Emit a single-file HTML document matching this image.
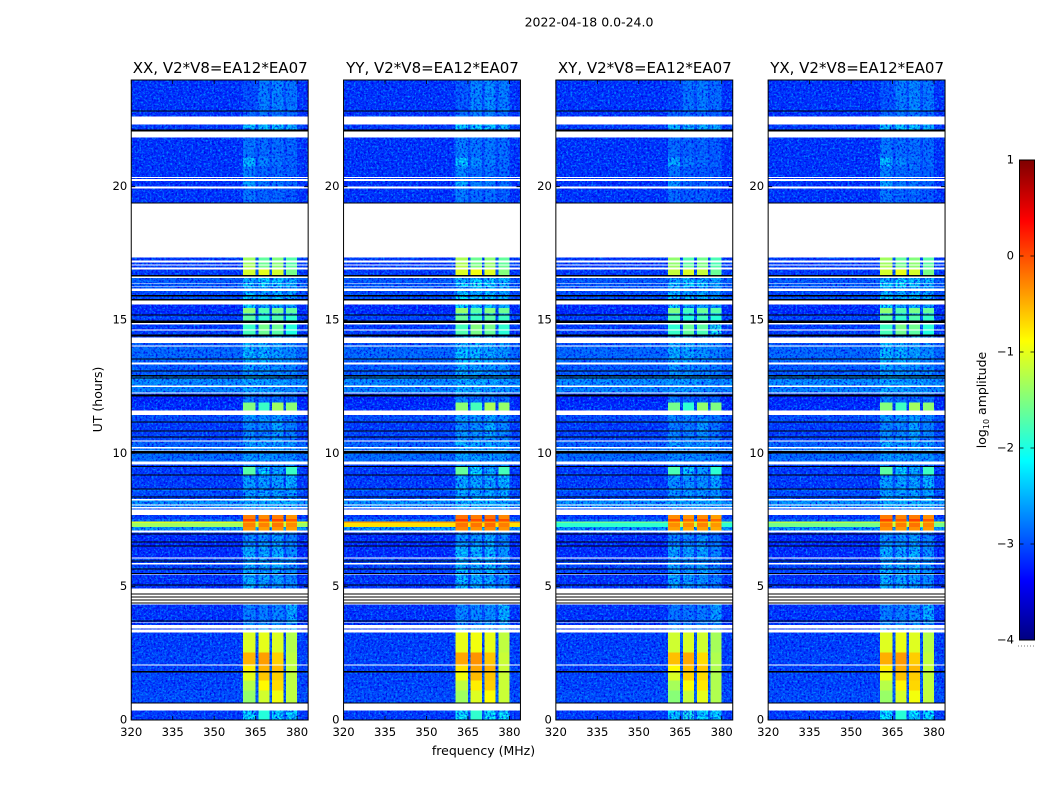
<!DOCTYPE html>
<html lang="en">
<head>
<meta charset="utf-8">
<title>2022-04-18 0.0-24.0</title>
<style>
html,body{margin:0;padding:0;background:#fff;}
body{width:1050px;height:800px;overflow:hidden;}
svg{display:block;}
text{font-family:"DejaVu Sans","Liberation Sans",sans-serif;fill:#000;}
</style>
</head>
<body>
<svg id="chart" xmlns="http://www.w3.org/2000/svg" width="1050" height="800" viewBox="0 0 1050 800">
  <defs>
    <filter id="speckle" filterUnits="userSpaceOnUse" x="0" y="0" width="1050" height="800" color-interpolation-filters="sRGB">
      <feTurbulence type="fractalNoise" baseFrequency="0.48 0.52" numOctaves="2" seed="4" result="n1"/>
      <feColorMatrix in="n1" type="matrix" values="0 0 0 0 0  0 0 0 0 0.55  0 0 0 0 1  3.0 0 0 0 -1.4" result="light"/>
      <feComposite in="light" in2="SourceGraphic" operator="in" result="lightIn"/>
      <feTurbulence type="fractalNoise" baseFrequency="0.5 0.46" numOctaves="2" seed="17" result="n2"/>
      <feColorMatrix in="n2" type="matrix" values="0 0 0 0 0  0 0 0 0 0  0 0 0 0 0.9  3.0 0 0 0 -1.3" result="dark"/>
      <feComposite in="dark" in2="SourceGraphic" operator="in" result="darkIn"/>
      <feMerge><feMergeNode in="SourceGraphic"/><feMergeNode in="darkIn"/><feMergeNode in="lightIn"/></feMerge>
    </filter>
  </defs>
  <text x="589" y="26.5" font-size="12.5" text-anchor="middle">2022-04-18 0.0-24.0</text>
  <g id="panels"></g>
  <text x="483.5" y="755" font-size="12.5" text-anchor="middle">frequency (MHz)</text>
  <text x="0" y="0" font-size="12.5" text-anchor="middle" transform="translate(102,399.5) rotate(-90)">UT (hours)</text>
  <g id="colorbar"></g>
  <text x="0" y="0" font-size="12.5" text-anchor="middle" transform="translate(986,400) rotate(-90)">log<tspan font-size="8" dy="3">10</tspan><tspan dy="-3"> amplitude</tspan></text>
</svg>
<script>
// Panels and axes
const panelTitles = ["XX, V2*V8=EA12*EA07", "YY, V2*V8=EA12*EA07", "XY, V2*V8=EA12*EA07", "YX, V2*V8=EA12*EA07"];
const freqTicks = [320, 335, 350, 365, 380];
const timeTicks = [0, 5, 10, 15, 20];
const colorTicks = [1, 0, -1, -2, -3, -4];
const freqRange = [320, 384];
const timeRange = [0, 24];
const colorRange = [-4, 1];

// Frequency channels: edges of background, sub-bands and the gaps between them
const channelEdges = [320, 360.5, 365, 366, 370, 371, 375, 376, 380, 384];

// Time rows: [UT top, UT bottom, background, band 1, band 2, band 3, band 4] in log10 amplitude.
// UT ranges absent from this list carry no data and stay white.
const timeRows = [
  [24.00, 22.81, -3.15, -3.00, -2.70, -2.65, -2.75],
  [22.81, 22.64, -3.15, -2.85, -2.75, -2.75, -2.85],
  [22.34, 22.07, -3.10, -2.30, -2.30, -2.30, -2.40],
  [21.85, 21.10, -3.15, -2.75, -2.80, -2.80, -2.85],
  [21.10, 20.76, -3.15, -2.35, -2.65, -2.75, -2.85],
  [20.76, 20.37, -3.15, -2.70, -2.85, -2.85, -2.90],
  [20.33, 20.28, -3.15, -2.85, -2.85, -2.85, -2.95],
  [20.22, 20.01, -3.15, -2.50, -2.75, -2.75, -2.85],
  [19.94, 19.41, -3.15, -2.75, -2.85, -2.85, -2.95],
  [17.35, 17.24, -3.10, -1.35, -1.65, -1.50, -1.70],
  [17.16, 17.09, -3.10, -1.35, -1.60, -1.45, -1.70],
  [17.05, 16.96, -3.10, -1.30, -1.55, -1.45, -1.65],
  [16.90, 16.68, -3.10, -1.10, -1.00, -1.10, -1.55],
  [16.58, 16.39, -2.90, -2.40, -2.20, -2.30, -2.40],
  [16.36, 16.26, -2.90, -2.20, -2.10, -2.20, -2.40],
  [16.23, 16.19, -2.90, -2.40, -2.40, -2.40, -2.50],
  [16.08, 15.89, -3.00, -2.35, -2.45, -2.40, -2.50],
  [15.89, 15.74, -2.95, -2.20, -2.30, -2.30, -2.40],
  [15.59, 15.45, -3.20, -2.20, -2.40, -2.40, -2.50],
  [15.45, 15.25, -3.20, -1.45, -1.75, -1.55, -1.65],
  [15.25, 15.18, -3.20, -2.40, -2.40, -2.40, -2.50],
  [15.18, 14.99, -3.05, -1.70, -1.90, -1.75, -1.90],
  [14.84, 14.65, -3.10, -1.85, -1.55, -1.60, -1.95],
  [14.61, 14.46, -3.10, -1.80, -1.60, -1.70, -2.00],
  [14.39, 14.35, -3.10, -2.40, -2.40, -2.40, -2.50],
  [14.13, 14.05, -2.95, -2.40, -2.40, -2.50, -2.60],
  [14.00, 13.41, -2.82, -2.35, -2.40, -2.50, -2.60],
  [13.34, 12.93, -2.90, -2.50, -2.55, -2.60, -2.65],
  [12.93, 12.55, -2.60, -2.45, -2.50, -2.55, -2.60],
  [12.48, 12.29, -2.65, -2.45, -2.50, -2.55, -2.60],
  [12.25, 12.14, -3.10, -2.70, -2.70, -2.70, -2.80],
  [12.14, 11.91, -3.25, -2.70, -2.80, -2.80, -2.85],
  [11.91, 11.61, -3.20, -1.50, -1.85, -1.35, -1.45],
  [11.43, 11.16, -3.00, -2.55, -2.60, -2.55, -2.70],
  [11.16, 10.83, -3.10, -2.65, -2.65, -2.45, -2.70],
  [10.83, 10.49, -3.05, -2.60, -2.65, -2.50, -2.70],
  [10.45, 10.23, -2.85, -2.45, -2.50, -2.50, -2.55],
  [10.19, 10.11, -2.70, -2.50, -2.50, -2.50, -2.55],
  [10.00, 9.70, -2.80, -2.55, -2.55, -2.60, -2.60],
  [9.59, 9.50, -3.05, -2.70, -2.70, -2.70, -2.70],
  [9.50, 9.18, -3.10, -1.70, -2.20, -2.45, -1.85],
  [9.18, 8.69, -3.10, -2.50, -2.50, -2.50, -2.40],
  [8.65, 8.58, -2.80, -2.50, -2.50, -2.50, -2.50],
  [8.58, 8.28, -3.00, -2.50, -2.50, -2.50, -2.50],
  [8.24, 8.09, -2.55, -2.40, -2.40, -2.40, -2.40],
  [8.05, 7.98, -2.60, -2.40, -2.40, -2.40, -2.40],
  [7.94, 7.90, -3.00, -2.60, -2.60, -2.60, -2.60],
  [7.68, 7.53, -3.10, -0.25, -0.30, -0.25, -0.35],
  [7.53, 7.45, -2.80, 0.05, -0.05, 0.05, -0.05],
  [7.45, 7.38, -1.05, -0.45, -0.50, -0.45, -0.50],
  [7.38, 7.23, -1.35, -0.25, -0.25, -0.20, -0.30],
  [7.23, 7.11, -2.55, -0.35, -0.40, -0.35, -0.40],
  [7.04, 6.55, -3.20, -2.60, -2.60, -2.50, -2.70],
  [6.51, 6.10, -3.20, -2.40, -2.45, -2.40, -2.60],
  [6.06, 5.88, -3.05, -2.50, -2.50, -2.50, -2.60],
  [5.84, 5.50, -3.05, -2.40, -2.50, -2.40, -2.60],
  [5.46, 4.94, -3.15, -2.40, -2.45, -2.50, -2.65],
  [4.34, 3.66, -3.15, -2.70, -2.70, -2.65, -2.45],
  [3.63, 3.57, -3.15, -2.60, -2.60, -2.60, -2.60],
  [3.44, 3.40, -3.15, -2.40, -2.40, -2.40, -2.40],
  [3.29, 2.54, -3.08, -1.05, -1.00, -1.05, -1.25],
  [2.54, 2.09, -3.05, -0.50, -0.40, -0.65, -1.20],
  [2.05, 1.79, -3.05, -0.80, -0.50, -0.55, -1.20],
  [1.79, 1.49, -3.05, -1.00, -0.60, -0.65, -1.20],
  [1.49, 1.11, -3.05, -1.25, -0.85, -0.70, -1.20],
  [1.11, 0.66, -3.00, -1.40, -1.10, -0.95, -1.20],
  [0.36, 0.00, -3.10, -2.15, -1.95, -2.15, -2.15]
];

// Flagged rows drawn black: [UT top, UT bottom]
const flaggedRows = [
  [22.86, 22.81], [22.15, 22.07], [19.41, 19.38], [16.68, 16.64], [15.93, 15.89],
  [15.78, 15.74], [15.21, 15.18], [14.99, 14.88], [14.46, 14.39], [13.56, 13.53],
  [13.11, 13.08], [12.93, 12.89], [12.85, 12.81], [12.21, 12.14], [11.20, 11.16],
  [10.86, 10.83], [10.64, 10.60], [10.08, 10.00], [9.53, 9.50], [9.21, 9.18],
  [8.69, 8.65], [8.39, 8.35], [7.00, 6.96], [6.70, 6.66], [6.55, 6.51],
  [5.99, 5.95], [5.69, 5.65], [5.52, 5.50], [5.09, 5.05], [4.75, 4.72],
  [4.63, 4.60], [4.52, 4.48], [4.40, 4.36], [3.74, 3.70], [1.83, 1.79], [0.66, 0.63]
];

// Per-correlation level shifts
const panelBandShift = [0, 0.06, -0.06, 0.02];
const panelHotRowShift = [0, 0.62, -0.55, -0.2];

const NS = "http://www.w3.org/2000/svg";
const panelRoot = document.getElementById("panels");
const cbarRoot = document.getElementById("colorbar");

function jet(t) {
  t = Math.max(0, Math.min(1, t));
  const c = (v) => Math.round(255 * Math.max(0, Math.min(1, v)));
  const r = 1.5 - Math.abs(4 * t - 3);
  const g = 1.5 - Math.abs(4 * t - 2);
  const b = 1.5 - Math.abs(4 * t - 1);
  return "rgb(" + c(r) + "," + c(g) + "," + c(b) + ")";
}
function levelColor(v) {
  return jet((v - colorRange[0]) / (colorRange[1] - colorRange[0]));
}
function make(parent, tag, attrs) {
  const el = document.createElementNS(NS, tag);
  for (const k in attrs) el.setAttribute(k, attrs[k]);
  parent.appendChild(el);
  return el;
}

const figLeft = 131.25, panelW = 176.9, panelStep = 212.3, plotTop = 80, plotBottom = 720;
const yOf = (u) => plotBottom - (u - timeRange[0]) / (timeRange[1] - timeRange[0]) * (plotBottom - plotTop);

panelTitles.forEach(function (title, p) {
  const left = figLeft + p * panelStep;
  const xOf = (f) => left + (f - freqRange[0]) / (freqRange[1] - freqRange[0]) * panelW;
  const g = make(panelRoot, "g", {});
  
  

  const noisy = make(g, "g", { filter: "url(#speckle)", "shape-rendering": "crispEdges" });
  
  
  const clean = make(g, "g", { "shape-rendering": "crispEdges" });
  
  

  timeRows.forEach(function (row) {
    const bg = row[2];
    const rowBg = bg > -2 ? bg + panelHotRowShift[p] : bg;
    const gap = Math.max(rowBg, bg + 0.15);
    const levels = [rowBg, row[3], gap, row[4], gap, row[5], gap, row[6], rowBg];
    levels.forEach(function (level, i) {
      const v = i % 2 === 1 ? level + panelBandShift[p] : level;
      const target = v < -2 ? noisy : clean;
      const x0 = xOf(channelEdges[i]), x1 = xOf(channelEdges[i + 1]);
      const y0 = yOf(row[0]), y1 = yOf(row[1]);
      const cell = make(target, "rect", { x: x0, y: y0, width: x1 - x0, height: y1 - y0, fill: levelColor(v) });
      
      
    });
  });

  flaggedRows.forEach(function (row) {
    const line = make(g, "rect", { x: left, y: yOf(row[0]), width: panelW, height: Math.max(1, yOf(row[1]) - yOf(row[0])), fill: "#000", "shape-rendering": "crispEdges" });
    
    
  });

  const frame = make(g, "rect", { x: left, y: plotTop, width: panelW, height: plotBottom - plotTop, fill: "none", stroke: "#000", "stroke-width": 1 });
  
  

  const titleEl = make(g, "text", { x: left + panelW / 2 + 0.5, y: 73, "font-size": 15, "text-anchor": "middle" });
  titleEl.textContent = title;
  
  

  freqTicks.forEach(function (f) {
    const x = xOf(f);
    const tb = make(g, "path", { d: "M" + x + " " + plotBottom + "v-4M" + x + " " + plotTop + "v4", stroke: "#000", "stroke-width": 0.8, fill: "none" });
    
    
    const lab = make(g, "text", { x: x, y: 736, "font-size": 11.6, "text-anchor": "middle" });
    lab.textContent = String(f);
    
    
  });

  timeTicks.forEach(function (u) {
    const y = yOf(u);
    const tk = make(g, "path", { d: "M" + left + " " + y + "h4M" + (left + panelW) + " " + y + "h-4", stroke: "#000", "stroke-width": 0.8, fill: "none" });
    
    
    const lab = make(g, "text", { x: left - 4, y: y + 3.5, "font-size": 11.6, "text-anchor": "end" });
    lab.textContent = String(u);
    
    
  });
});

// Colour bar
const cbLeft = 1019.5, cbWidth = 15, cbTop = 160, cbBottom = 640;
const cbY = (v) => cbBottom - (v - colorRange[0]) / (colorRange[1] - colorRange[0]) * (cbBottom - cbTop);
const swatchCount = 240;
const cbFill = make(cbarRoot, "g", { "shape-rendering": "crispEdges" });


for (let i = 0; i < swatchCount; i++) {
  const v0 = colorRange[0] + (colorRange[1] - colorRange[0]) * i / swatchCount;
  const v1 = colorRange[0] + (colorRange[1] - colorRange[0]) * (i + 1) / swatchCount;
  const sw = make(cbFill, "rect", { x: cbLeft, y: cbY(v1), width: cbWidth, height: cbY(v0) - cbY(v1) + 0.5, fill: levelColor((v0 + v1) / 2) });
  
  
}
const cbFrame = make(cbarRoot, "rect", { x: cbLeft, y: cbTop, width: cbWidth, height: cbBottom - cbTop, fill: "none", stroke: "#000", "stroke-width": 1 });


colorTicks.forEach(function (v) {
  const y = cbY(v);
  const tk = make(cbarRoot, "path", { d: "M" + cbLeft + " " + y + "h4M" + (cbLeft + cbWidth) + " " + y + "h-4", stroke: "#000", "stroke-width": 0.8, fill: "none" });
  
  
  const lab = make(cbarRoot, "text", { x: 1014, y: y + 3.5, "font-size": 11.6, "text-anchor": "end" });
  lab.textContent = (v < 0 ? "\u2212" : "") + Math.abs(v);
  
  
});
const dots = make(cbarRoot, "path", { d: "M1018 646H1035", stroke: "#777", "stroke-width": 1, "stroke-dasharray": "1 2", fill: "none" });


</script>
</body>
</html>
